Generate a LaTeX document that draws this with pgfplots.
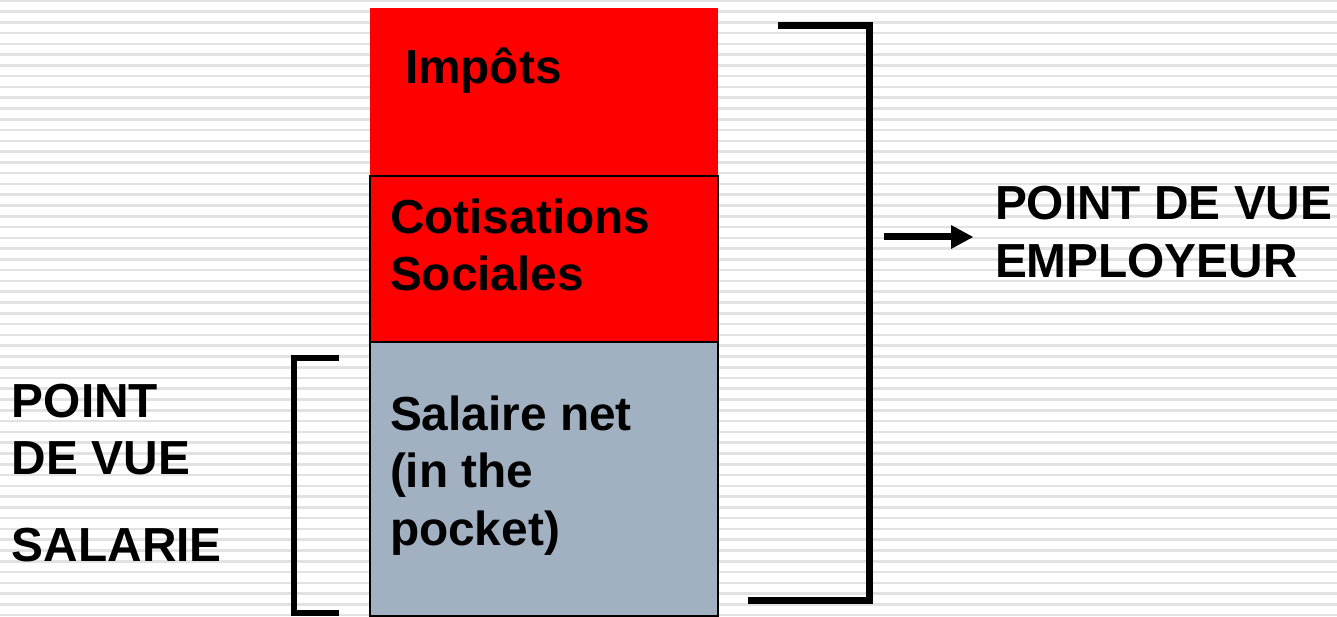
\documentclass[border=0pt]{standalone}
\usepackage{pgfplots}
\pgfplotsset{compat=1.18}
\usepackage{fontspec}
\setmainfont{Liberation Sans}
\definecolor{netgray}{RGB}{162,177,193}
\definecolor{stripe}{RGB}{226,226,226}
\begin{document}
\begin{tikzpicture}[lab/.style={font=\fontsize{47.8}{57}\selectfont\bfseries, anchor=base west, inner sep=0pt, outer sep=0pt}]
\begin{axis}[
  name=ax,
  at={(0,0)}, anchor=south west,
  scale only axis, width=1337pt, height=616pt,
  xmin=0, xmax=1337, ymin=0, ymax=616,
  axis line style={draw=none},
  tick style={draw=none},
  xtick=\empty,
  ytick={0.84,11.62,...,616}, yticklabels={},
  ymajorgrids, major grid style={stripe, line width=2.6pt},
  ybar stacked, bar width=348,
  clip=false,
]
\addplot[fill=netgray, draw=black, line width=1.5pt] coordinates {(544,274)};
\addplot[fill=red, draw=black, line width=1.5pt] coordinates {(544,166)};
\addplot[fill=red, draw=none] coordinates {(544,168)};
% brackets
\draw[line width=6.5pt, miter limit=10] (axis cs:339,258) -- (axis cs:294,258) -- (axis cs:294,3) -- (axis cs:339,3);
\draw[line width=7pt] (axis cs:778,590.5) -- (axis cs:872,590.5);
\draw[line width=7pt] (axis cs:869,594) -- (axis cs:869,12.5);
\draw[line width=7pt] (axis cs:748,16) -- (axis cs:872,16);
% arrow
\draw[line width=7pt] (axis cs:884,379) -- (axis cs:955,379);
\fill (axis cs:951,391) -- (axis cs:973,379) -- (axis cs:951,367) -- cycle;
\end{axis}
% labels (axis units are 1pt, origin at the axis' south west corner)
\node[lab] at (405pt,532pt) {Impôts};
\node[lab] at (390pt,382pt) {Cotisations};
\node[lab] at (390pt,325pt) {Sociales};
\node[lab] at (390pt,186pt) {Salaire net};
\node[lab] at (390pt,129pt) {(in the};
\node[lab] at (390pt,71pt) {pocket)};
\node[lab] at (995pt,396pt) {POINT DE VUE};
\node[lab] at (995pt,338pt) {EMPLOYEUR};
\node[lab] at (12pt,199pt) {POINT};
\node[lab] at (12pt,142pt) {DE VUE};
\node[lab] at (12pt,55pt) {SALARIE};
\pgfresetboundingbox
\useasboundingbox (0,0) rectangle (1337pt,616pt);
\end{tikzpicture}
\end{document}
